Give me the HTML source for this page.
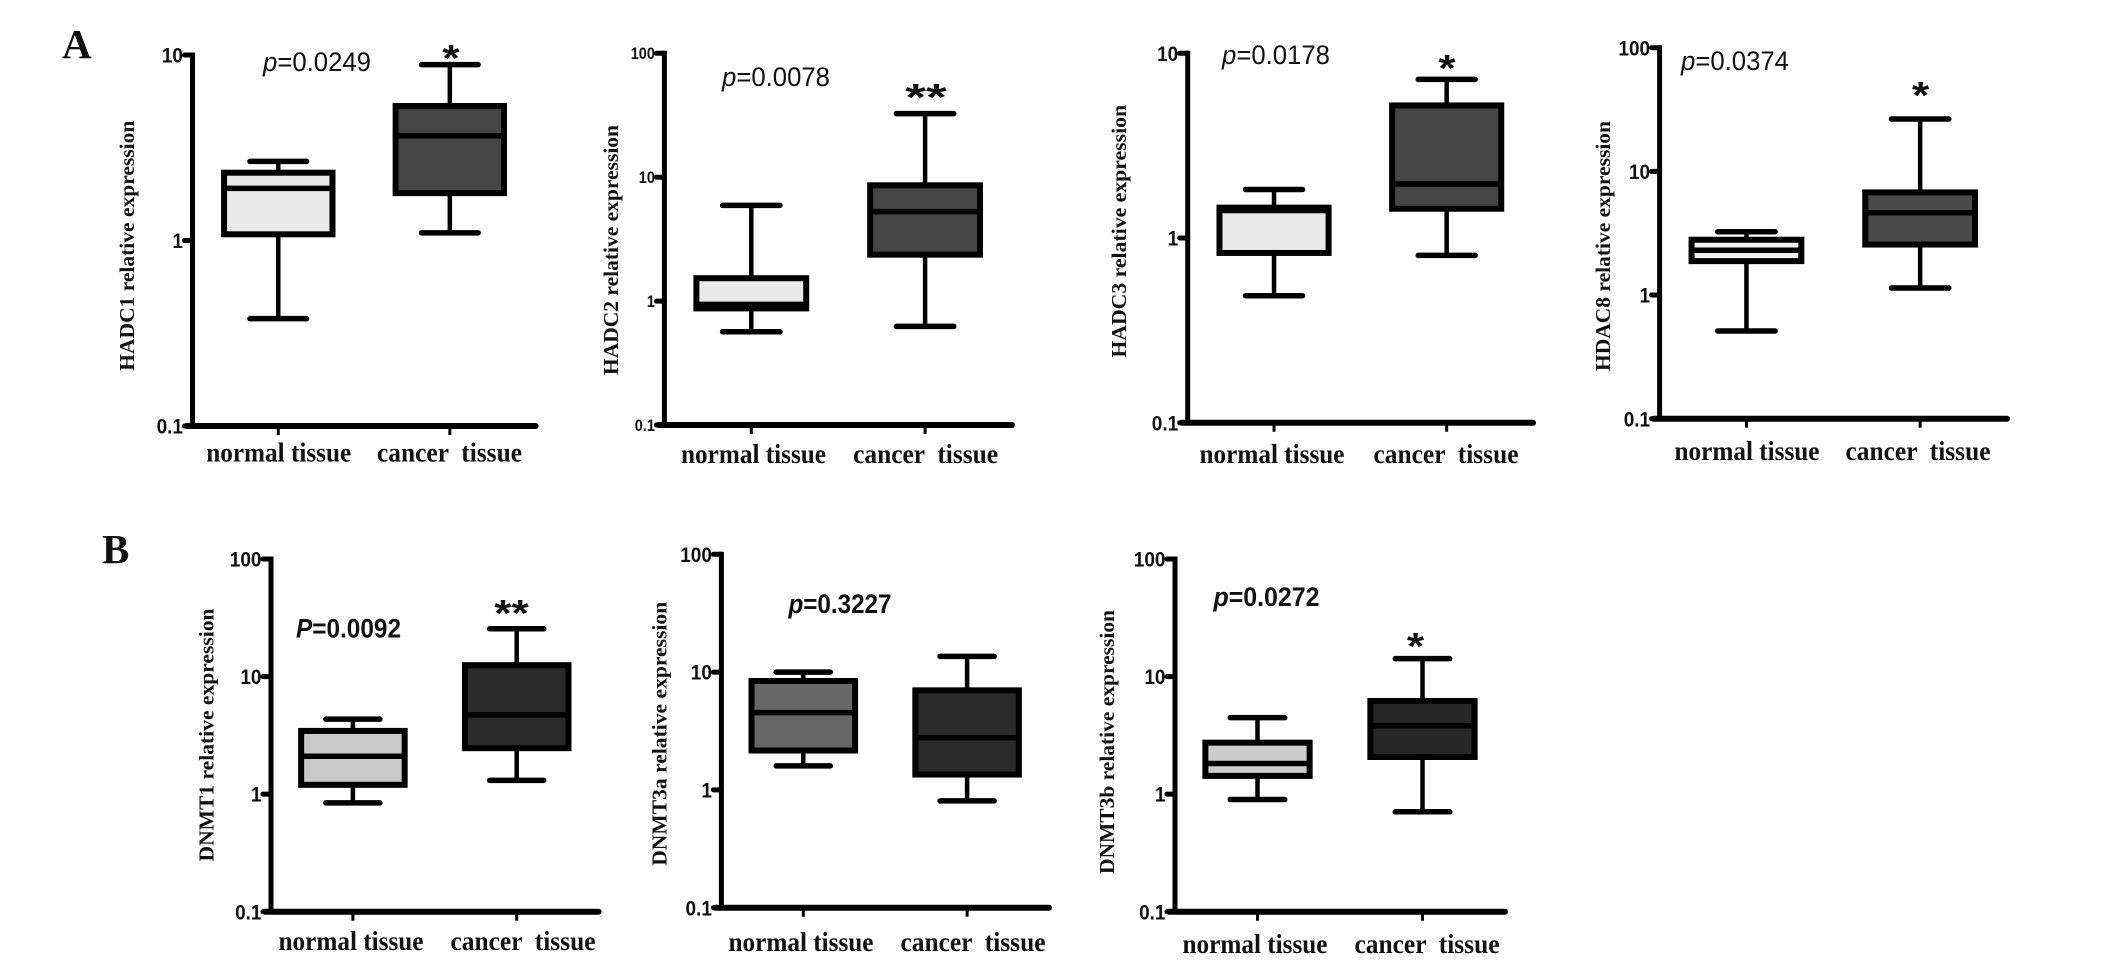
<!DOCTYPE html>
<html lang="en">
<head>
<meta charset="utf-8">
<title>HDAC and DNMT relative expression box plots</title>
<style>
html,body{margin:0;padding:0;background:#fff;width:2126px;height:970px;overflow:hidden}
svg{display:block;position:absolute;left:0;top:0}
text{white-space:pre}
.serif{font-family:"Liberation Serif",serif;font-weight:bold;fill:#111}
.sans{font-family:"Liberation Sans",sans-serif;fill:#111}
</style>
</head>
<body>
<svg id="figure" xmlns="http://www.w3.org/2000/svg" width="2126" height="970" viewBox="0 0 2126 970">
  <text class="serif" x="62" y="58" font-size="41">A</text>
  <text class="serif" x="102" y="563" font-size="41">B</text>
</svg>
<script>
// ---- Data (each series: low whisker, Q1, median, Q3, high whisker) ----
const categories = ['normal tissue', 'cancer  tissue'];
const ticksTwoDecades = ['0.1', '1', '10'];
const ticksThreeDecades = ['0.1', '1', '10', '100'];

const hadc1Normal = [0.379, 1.08, 1.91, 2.32, 2.67];
const hadc1Cancer = [1.10, 1.80, 3.67, 5.31, 8.87];
const hadc2Normal = [0.566, 0.873, 0.94, 1.53, 5.93];
const hadc2Cancer = [0.625, 2.37, 5.27, 8.6, 32.6];
const hadc3Normal = [0.487, 0.83, 1.41, 1.46, 1.83];
const hadc3Cancer = [0.805, 1.44, 1.96, 5.22, 7.22];
const hdac8Normal = [0.512, 1.88, 2.3, 2.8, 3.25];
const hdac8Cancer = [1.14, 2.56, 4.63, 6.76, 26.5];
const dnmt1Normal = [0.843, 1.2, 2.1, 3.45, 4.34];
const dnmt1Cancer = [1.31, 2.46, 4.72, 12.5, 25.5];
const dnmt3aNormal = [1.6, 2.16, 4.53, 8.4, 10.0];
const dnmt3aCancer = [0.807, 1.35, 2.78, 7.0, 13.6];
const dnmt3bNormal = [0.90, 1.43, 1.82, 2.74, 4.47];
const dnmt3bCancer = [0.708, 2.07, 3.82, 6.2, 14.2];

// ---- Panel descriptions: data references, wording and page layout ----
const panels = [
  {id:'hadc1', title:'HADC1 relative expression', ticks:ticksTwoDecades, normal:hadc1Normal, cancer:hadc1Cancer,
   pPrefix:'p', pValue:'=0.0249', sig:'*',
   frame:{left:192.5,right:535.6,top:55,bottom:426},
   fills:['#e9e9e9','#454545'], tickSize:19, heavyP:false,
   titlePos:[134,245.7,250], catPos:[278.7,449.5], catBase:461.5, pPos:[263,71,108], sigPos:[451,50,15]},
  {id:'hadc2', title:'HADC2 relative expression', ticks:ticksThreeDecades, normal:hadc2Normal, cancer:hadc2Cancer,
   pPrefix:'p', pValue:'=0.0078', sig:'**',
   frame:{left:664.4,right:1012,top:53.3,bottom:425},
   fills:['#e9e9e9','#454545'], tickSize:14.5, heavyP:false,
   titlePos:[618,250,250], catPos:[753.5,925.6], catBase:463, pPos:[722,86,108], sigPos:[926,89,36]},
  {id:'hadc3', title:'HADC3 relative expression', ticks:ticksTwoDecades, normal:hadc3Normal, cancer:hadc3Cancer,
   pPrefix:'p', pValue:'=0.0178', sig:'*',
   frame:{left:1187.7,right:1533,top:53.3,bottom:422.7},
   fills:['#e9e9e9','#454545'], tickSize:19, heavyP:false,
   titlePos:[1126,231.3,252.7], catPos:[1272,1446], catBase:463, pPos:[1222,64,108], sigPos:[1447,60,15]},
  {id:'hdac8', title:'HDAC8 relative expression', ticks:ticksThreeDecades, normal:hdac8Normal, cancer:hdac8Cancer,
   pPrefix:'p', pValue:'=0.0374', sig:'*',
   frame:{left:1659.6,right:2007,top:47.7,bottom:418.7},
   fills:['#f0f0f0','#4a4a4a'], tickSize:19, heavyP:false,
   titlePos:[1610,246,250], catPos:[1747,1918], catBase:460, pPos:[1681,70,108], sigPos:[1920.6,87,15]},
  {id:'dnmt1', title:'DNMT1 relative expression', ticks:ticksThreeDecades, normal:dnmt1Normal, cancer:dnmt1Cancer,
   pPrefix:'P', pValue:'=0.0092', sig:'**',
   frame:{left:271,right:598.6,top:559,bottom:911.7},
   fills:['#c9c9c9','#2a2a2a'], tickSize:19, heavyP:true,
   titlePos:[213.6,735,253], catPos:[351,523], catBase:950, pPos:[296,637.7,105], sigPos:[511.5,605,30]},
  {id:'dnmt3a', title:'DNMT3a relative expression', ticks:ticksThreeDecades, normal:dnmt3aNormal, cancer:dnmt3aCancer,
   pPrefix:'p', pValue:'=0.3227', sig:'',
   frame:{left:721.4,right:1049,top:554.3,bottom:907.7},
   fills:['#666666','#2a2a2a'], tickSize:19, heavyP:true,
   titlePos:[666.4,733.8,264], catPos:[801,973], catBase:951, pPos:[788.5,613,103], sigPos:[0,0,0]},
  {id:'dnmt3b', title:'DNMT3b relative expression', ticks:ticksThreeDecades, normal:dnmt3bNormal, cancer:dnmt3bCancer,
   pPrefix:'p', pValue:'=0.0272', sig:'*',
   frame:{left:1175,right:1505,top:559,bottom:911.7},
   fills:['#cccccc','#262626'], tickSize:19, heavyP:true,
   titlePos:[1114,742,264], catPos:[1255,1427], catBase:953, pPos:[1213.5,606,106], sigPos:[1415.5,638,15]}
];

// ---- Axis functions ----
function yScale(frame, ticks) {
  const lo = Math.log10(parseFloat(ticks[0]));
  const hi = Math.log10(parseFloat(ticks[ticks.length - 1]));
  return function (v) {
    return frame.bottom - (Math.log10(v) - lo) / (hi - lo) * (frame.bottom - frame.top);
  };
}
function xScale(frame) {
  const span = frame.right - frame.left;
  return function (i) { return frame.left + span * (0.25 + 0.5 * i); };
}

const NS = 'http://www.w3.org/2000/svg';
const svg = document.getElementById('figure');
function make(parent, tag, attrs, text) {
  const el = document.createElementNS(NS, tag);
  for (const k in attrs) el.setAttribute(k, attrs[k]);
  if (text !== undefined) el.textContent = text;
  parent.appendChild(el);
  return el;
}
function seg(parent, x1, y1, x2, y2, w, cap) {
  return make(parent, 'line', {x1:x1, y1:y1, x2:x2, y2:y2, stroke:'#000', 'stroke-width':w, 'stroke-linecap':cap || 'butt'});
}
function tickTextWidth(t, size) {
  return size * (t.replace('.', '').length * 0.556 + (t.indexOf('.') >= 0 ? 0.278 : 0));
}

panels.forEach(function (p) {
  const f = p.frame;
  const y = yScale(f, p.ticks);
  const x = xScale(f);
  const span = f.right - f.left;

  const g = make(svg, 'g', {});
  
  

  // y axis + ticks
  const yAxis = seg(g, f.left, f.top - 2.5, f.left, f.bottom + 2, 5);
  
  

  p.ticks.forEach(function (t) {
    const ty = y(parseFloat(t));
    const tick = seg(g, f.left - 8, ty, f.left, ty, 5, 'round');
    
    
    const label = make(g, 'text', {
      x:f.left - 9.5 - tickTextWidth(t, p.tickSize), y:ty + p.tickSize * 0.4,
      'font-size':p.tickSize * 1.12, 'font-weight':'bold', class:'sans',
      textLength:tickTextWidth(t, p.tickSize), lengthAdjust:'spacingAndGlyphs'
    }, t);
    
    
  });

  // x axis
  const xAxis = seg(g, f.left - 6, f.bottom, f.right, f.bottom, 6, 'round');
  
  

  [p.normal, p.cancer].forEach(function (vals, i) {
    const cx = x(i);
    const boxW = span * 0.316;
    const capW = span * 0.165;
    const group = categories[i].split(' ')[0];

    const xt = seg(g, cx, f.bottom, cx, f.bottom + 9, 3);
    
    

    const whisker = seg(g, cx, y(vals[4]), cx, y(vals[0]), 4.5);
    
    

    const capHigh = seg(g, cx - capW / 2, y(vals[4]), cx + capW / 2, y(vals[4]), 5.5, 'round');
    
    

    const capLow = seg(g, cx - capW / 2, y(vals[0]), cx + capW / 2, y(vals[0]), 5.5, 'round');
    
    

    const box = make(g, 'rect', {x:cx - boxW / 2, y:y(vals[3]), width:boxW, height:y(vals[1]) - y(vals[3]), fill:p.fills[i], stroke:'#000', 'stroke-width':6});
    
    

    const median = seg(g, cx - boxW / 2, y(vals[2]), cx + boxW / 2, y(vals[2]), 5.5);
    
    

    const cat = make(g, 'text', {x:p.catPos[i], y:p.catBase, 'text-anchor':'middle', 'font-size':27, class:'serif', textLength:145, lengthAdjust:'spacingAndGlyphs'}, categories[i]);
    
    
  });

  // y axis title
  const title = make(g, 'text', {
    transform:'translate(' + p.titlePos[0] + ',' + p.titlePos[1] + ') rotate(-90)',
    'text-anchor':'middle', 'font-size':21.5, class:'serif',
    textLength:p.titlePos[2], lengthAdjust:'spacingAndGlyphs'
  }, p.title);
  
  

  // p value
  const pText = make(g, 'text', {
    x:p.pPos[0], y:p.pPos[1], 'font-size':27, class:'sans',
    'font-weight':p.heavyP ? 'bold' : 'normal',
    textLength:p.pPos[2], lengthAdjust:'spacingAndGlyphs'
  });
  
  
  make(pText, 'tspan', {'font-style':'italic'}, p.pPrefix);
  make(pText, 'tspan', {}, p.pValue);

  // significance marker
  if (p.sig) {
    const star = make(g, 'text', {
      x:p.sigPos[0], y:p.sigPos[1] + 21, 'text-anchor':'middle', 'font-size':38, 'font-weight':'bold', class:'sans',
      textLength:p.sigPos[2] * 1.15, lengthAdjust:'spacingAndGlyphs'
    }, p.sig);
    
    
  }
});
</script>
</body>
</html>
